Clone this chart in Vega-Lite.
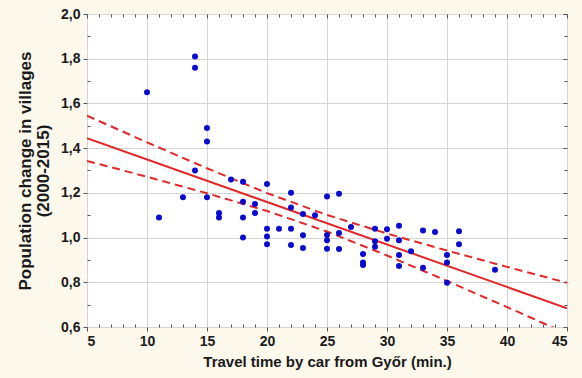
{
  "$schema": "https://vega.github.io/schema/vega-lite/v6.json",
  "autosize": "none",
  "width": 480,
  "height": 313,
  "padding": {"left": 87, "top": 14, "right": 15, "bottom": 51},
  "background": "#FCF8EC",
  "config": {
    "view": {"stroke": "#333333", "strokeWidth": 1, "fill": "white"},
    "font": "Liberation Sans"
  },
  "datasets": {
    "pts": [
      {"t": 10, "p": 1.65}, {"t": 11, "p": 1.09}, {"t": 13, "p": 1.18},
      {"t": 14, "p": 1.81}, {"t": 14, "p": 1.76}, {"t": 14, "p": 1.30},
      {"t": 15, "p": 1.49}, {"t": 15, "p": 1.43}, {"t": 15, "p": 1.18},
      {"t": 16, "p": 1.11}, {"t": 16, "p": 1.09}, {"t": 17, "p": 1.26},
      {"t": 18, "p": 1.25}, {"t": 18, "p": 1.16}, {"t": 18, "p": 1.09}, {"t": 18, "p": 1.00},
      {"t": 19, "p": 1.15}, {"t": 19, "p": 1.11},
      {"t": 20, "p": 1.24}, {"t": 20, "p": 1.04}, {"t": 20, "p": 1.005}, {"t": 20, "p": 0.97},
      {"t": 21, "p": 1.04},
      {"t": 22, "p": 1.20}, {"t": 22, "p": 1.135}, {"t": 22, "p": 1.04}, {"t": 22, "p": 0.967},
      {"t": 23, "p": 1.105}, {"t": 23, "p": 1.01}, {"t": 23, "p": 0.953},
      {"t": 24, "p": 1.10},
      {"t": 25, "p": 1.184}, {"t": 25, "p": 1.011}, {"t": 25, "p": 0.988}, {"t": 25, "p": 0.95},
      {"t": 26, "p": 1.196}, {"t": 26, "p": 1.02}, {"t": 26, "p": 0.949},
      {"t": 27, "p": 1.047},
      {"t": 28, "p": 0.926}, {"t": 28, "p": 0.888}, {"t": 28, "p": 0.877},
      {"t": 29, "p": 1.04}, {"t": 29, "p": 0.983}, {"t": 29, "p": 0.959},
      {"t": 30, "p": 1.037}, {"t": 30, "p": 0.995},
      {"t": 31, "p": 1.053}, {"t": 31, "p": 0.988}, {"t": 31, "p": 0.922}, {"t": 31, "p": 0.873},
      {"t": 32, "p": 0.939},
      {"t": 33, "p": 1.032}, {"t": 33, "p": 0.865},
      {"t": 34, "p": 1.025},
      {"t": 35, "p": 0.922}, {"t": 35, "p": 0.888}, {"t": 35, "p": 0.798},
      {"t": 36, "p": 1.028}, {"t": 36, "p": 0.97},
      {"t": 39, "p": 0.856}
    ],
    "fit": [
      {"t": 5, "p": 1.444}, {"t": 45, "p": 0.684}
    ],
    "bands": [
      {"band": "upper", "t": 5, "p": 1.545}, {"band": "upper", "t": 10, "p": 1.426},
      {"band": "upper", "t": 15, "p": 1.310}, {"band": "upper", "t": 20, "p": 1.199},
      {"band": "upper", "t": 25, "p": 1.101}, {"band": "upper", "t": 30, "p": 1.018},
      {"band": "upper", "t": 35, "p": 0.942}, {"band": "upper", "t": 40, "p": 0.869},
      {"band": "upper", "t": 45, "p": 0.798},
      {"band": "lower", "t": 5, "p": 1.343}, {"band": "lower", "t": 10, "p": 1.272},
      {"band": "lower", "t": 15, "p": 1.198}, {"band": "lower", "t": 20, "p": 1.119},
      {"band": "lower", "t": 25, "p": 1.027}, {"band": "lower", "t": 30, "p": 0.920},
      {"band": "lower", "t": 35, "p": 0.806}, {"band": "lower", "t": 40, "p": 0.689},
      {"band": "lower", "t": 45, "p": 0.570}
    ]
  },
  "resolve": {"axis": {"x": "independent", "y": "independent"}},
  "layer": [
    {
      "data": {"name": "bands"},
      "mark": {"type": "line", "color": "#E0282A", "strokeWidth": 2, "strokeDash": [8, 5], "clip": true},
      "encoding": {
        "x": {
          "field": "t", "type": "quantitative",
          "scale": {"domain": [5, 45], "nice": false, "zero": false},
          "axis": {
            "title": "Travel time by car from Győr (min.)",
            "values": [5,6,7,8,9,10,11,12,13,14,15,16,17,18,19,20,21,22,23,24,25,26,27,28,29,30,31,32,33,34,35,36,37,38,39,40,41,42,43,44,45],
            "labelExpr": "datum.value % 5 == 0 ? datum.label : ''",
            "grid": true, "gridColor": "#d4d4d4", "gridWidth": 1,
            "gridOpacity": {"condition": {"test": "datum.value % 5 == 0", "value": 1}, "value": 0},
            "domain": false, "ticks": true,
            "tickSize": {"condition": {"test": "datum.value % 5 == 0", "value": 4}, "value": -3},
            "tickColor": "#555555",
            "labelFont": "Liberation Sans", "labelFontSize": 14, "labelFontWeight": "bold", "labelColor": "#1a1a1a",
            "labelPadding": 3,
            "titleFont": "Liberation Sans", "titleFontSize": 15, "titleFontWeight": "bold", "titleColor": "#1a1a1a",
            "titlePadding": 6
          }
        },
        "y": {
          "field": "p", "type": "quantitative",
          "scale": {"domain": [0.6, 2.0], "nice": false, "zero": false},
          "axis": {
            "title": ["Population change in villages", "(2000-2015)"],
            "values": [0.6,0.7,0.8,0.9,1.0,1.1,1.2,1.3,1.4,1.5,1.6,1.7,1.8,1.9,2.0],
            "labelExpr": "round(datum.value * 10) % 2 == 0 ? replace(format(datum.value, '.1f'), '.', ',') : ''",
            "grid": true, "gridColor": "#d4d4d4", "gridWidth": 1,
            "gridOpacity": {"condition": {"test": "round(datum.value * 10) % 2 == 0", "value": 1}, "value": 0},
            "domain": false, "ticks": true,
            "tickSize": {"condition": {"test": "round(datum.value * 10) % 2 == 0", "value": 4}, "value": -3},
            "tickColor": "#555555",
            "labelFont": "Liberation Sans", "labelFontSize": 14, "labelFontWeight": "bold", "labelColor": "#1a1a1a",
            "labelPadding": 3,
            "titleFont": "Liberation Sans", "titleFontSize": 17, "titleFontWeight": "bold", "titleColor": "#1a1a1a",
            "titlePadding": 8, "titleLineHeight": 18
          }
        },
        "detail": {"field": "band"}
      }
    },
    {
      "data": {"name": "fit"},
      "mark": {"type": "line", "color": "#E0282A", "strokeWidth": 2, "clip": true},
      "encoding": {
        "x": {
          "field": "t", "type": "quantitative",
          "axis": {
            "orient": "top", "title": null, "labels": false, "grid": false, "domain": false,
            "values": [5,6,7,8,9,10,11,12,13,14,15,16,17,18,19,20,21,22,23,24,25,26,27,28,29,30,31,32,33,34,35,36,37,38,39,40,41,42,43,44,45],
            "tickSize": {"condition": {"test": "datum.value % 5 == 0", "value": -4}, "value": -3},
            "tickColor": "#555555"
          }
        },
        "y": {
          "field": "p", "type": "quantitative",
          "axis": {
            "orient": "right", "title": null, "labels": false, "grid": false, "domain": false,
            "values": [0.6,0.7,0.8,0.9,1.0,1.1,1.2,1.3,1.4,1.5,1.6,1.7,1.8,1.9,2.0],
            "tickSize": {"condition": {"test": "round(datum.value * 10) % 2 == 0", "value": -4}, "value": -3},
            "tickColor": "#555555"
          }
        }
      }
    },
    {
      "data": {"name": "pts"},
      "mark": {"type": "circle", "color": "#0A0ACC", "opacity": 1, "size": 36},
      "encoding": {
        "x": {"field": "t", "type": "quantitative", "axis": null},
        "y": {"field": "p", "type": "quantitative", "axis": null}
      }
    }
  ]
}
